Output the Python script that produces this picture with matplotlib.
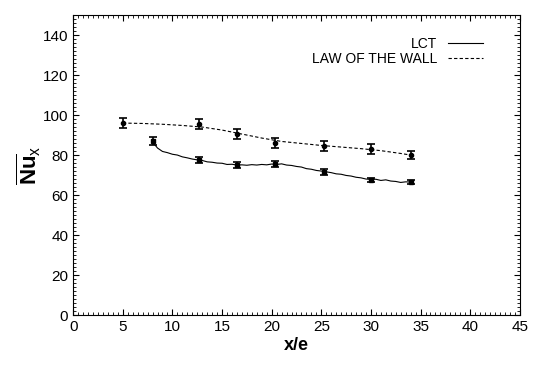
import numpy as np
import matplotlib
matplotlib.use("Agg")
import matplotlib.pyplot as plt
from matplotlib.ticker import MultipleLocator

plt.rcParams["font.family"] = ["Liberation Sans", "DejaVu Sans"]
plt.rcParams["mathtext.fontset"] = "custom"
plt.rcParams["mathtext.rm"] = "Liberation Sans"
plt.rcParams["mathtext.bf"] = "Liberation Sans:bold"
plt.rcParams["mathtext.it"] = "Liberation Sans:italic"

# LCT measured curve
lct_x = [8.0, 8.5, 9.0, 9.5, 10.0, 10.5, 11.0, 11.5, 12.0, 12.5, 13.0, 13.5, 14.0,
         14.5, 15.0, 15.5, 16.0, 16.5, 17.0, 17.5, 18.0, 18.5, 19.0, 19.5, 20.0,
         20.5, 21.0, 21.5, 22.0, 22.5, 23.0, 23.5, 24.0, 24.5, 25.0, 25.5, 26.0,
         26.5, 27.0, 27.5, 28.0, 28.5, 29.0, 29.5, 30.0, 30.5, 31.0, 31.5, 32.0,
         32.5, 33.0, 33.5, 34.0]
lct_y = [86.5, 83.5, 81.8, 81.2, 80.4, 80.0, 79.1, 78.6, 78.0, 77.6, 77.3, 76.6, 76.4,
         76.0, 75.9, 75.3, 75.4, 75.0, 75.1, 74.9, 75.2, 75.0, 75.3, 75.1, 75.5,
         75.3, 75.6, 75.0, 74.8, 74.3, 74.0, 73.2, 72.9, 72.3, 72.0, 71.6, 71.2,
         70.6, 70.4, 69.8, 69.5, 68.9, 68.6, 68.0, 67.8, 67.9, 67.3, 67.6, 67.0,
         66.8, 66.3, 66.6, 66.5]

# LCT points with error bars
lct_pts_x = [8.0, 12.7, 16.5, 20.3, 25.3, 30.0, 34.0]
lct_pts_y = [87.0, 77.5, 75.0, 75.5, 71.5, 67.5, 66.5]
lct_err = [1.8, 1.5, 1.5, 1.5, 1.5, 1.2, 1.2]

# law of the wall
law_x = [5, 7, 9, 11, 13, 15, 17, 19, 21, 23, 25, 27, 29, 31, 33, 34]
law_y = [96.0, 95.8, 95.4, 94.8, 94.0, 92.5, 90.5, 88.5, 86.8, 85.8, 84.8, 84.0,
         83.2, 82.2, 80.8, 80.0]
law_pts_x = [5.0, 12.7, 16.5, 20.3, 25.3, 30.0, 34.0]
law_pts_y = [96.0, 95.5, 90.5, 86.0, 84.5, 83.0, 80.0]
law_err = [2.5, 2.5, 2.5, 2.5, 2.5, 2.5, 2.0]

fig = plt.figure(figsize=(5.46, 3.68), dpi=100)
ax = fig.add_axes([0.134, 0.144, 0.818, 0.815])

ax.plot(lct_x, lct_y, color="black", lw=0.8, label="LCT")
ax.plot(law_x, law_y, color="black", lw=0.8, ls=(0, (3, 2)), label="LAW OF THE WALL")
ax.errorbar(lct_pts_x, lct_pts_y, yerr=lct_err, fmt="s", color="black", ms=3,
            capsize=3, elinewidth=1.2, capthick=1.2)
ax.errorbar(law_pts_x, law_pts_y, yerr=law_err, fmt="o", color="black", ms=3,
            capsize=3, elinewidth=1.2, capthick=1.2)

ax.set_xlim(0, 45)
ax.set_ylim(0, 150)
ax.set_xticks(np.arange(0, 46, 5))
ax.set_yticks(np.arange(0, 141, 20))
ax.xaxis.set_minor_locator(MultipleLocator(0.5))
ax.yaxis.set_minor_locator(MultipleLocator(2))
ax.tick_params(which="both", direction="in", top=True, right=True, labelsize=11)
ax.tick_params(which="major", length=4.5)
ax.tick_params(which="minor", length=2)

ax.set_xlabel("x/e", fontsize=13, fontweight="bold", labelpad=2)
ax.set_ylabel(r"$\overline{\mathbf{Nu}}_{\mathrm{x}}$", fontsize=16, labelpad=0)

ax.legend(loc="upper right", bbox_to_anchor=(0.945, 0.97), frameon=False,
          markerfirst=False, fontsize=10, handlelength=2.5, labelspacing=0.1)

plt.savefig("out.png", dpi=100)
